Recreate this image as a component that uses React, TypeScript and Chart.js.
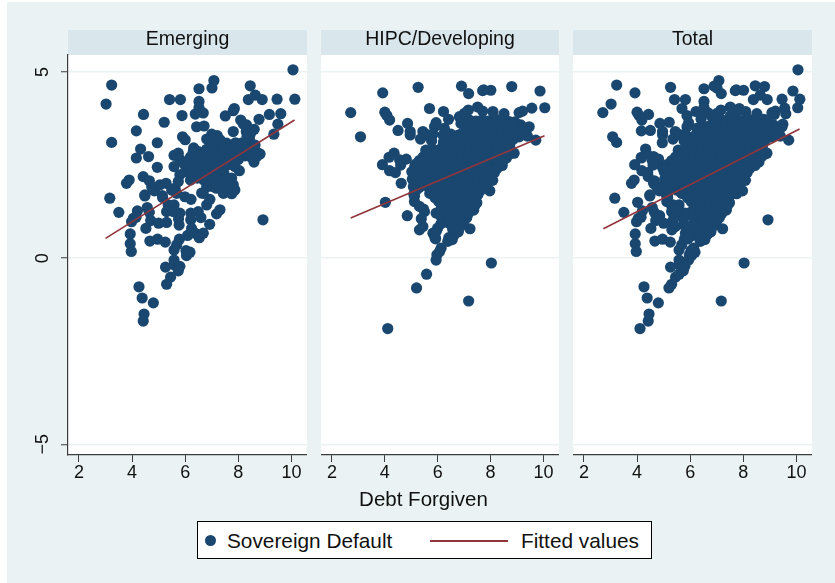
import React, { useEffect, useRef } from "react";
import { Chart, registerables } from "chart.js";

Chart.register(...registerables);

type Pt = [number, number];

const xTicks = [2, 4, 6, 8, 10];
const yTicks = [-5, 0, 5];
const legendLabels = ["Sovereign Default", "Fitted values"];
const xAxisLabel = "Debt Forgiven";
const panelNames = ["Emerging", "HIPC/Developing", "Total"];

const emergingPoints: Pt[] = [
  [10.06,5.06],[3.23,4.65],[3.02,4.14],[7.08,4.77],[7.01,4.57],[6.52,4.55],[8.45,4.63],[8.64,4.38],[8.38,4.26],[8.9,4.26],
  [9.46,4.27],[10.13,4.27],[5.41,4.26],[5.82,4.26],[6.52,4.21],[6.52,4.04],[6.38,3.87],[6.68,3.9],[4.43,3.86],[5.88,3.83],
  [7.51,3.82],[7.85,4.02],[7.81,3.96],[9.17,3.86],[9.6,3.88],[8.78,3.73],[9.49,3.6],[9.34,3.33],[5.21,3.65],[4.16,3.42],
  [8.09,3.71],[8.19,3.6],[8.31,3.58],[8.6,3.46],[7.81,3.4],[6.43,3.53],[6.71,3.55],[8.33,3.27],[8.42,3.2],[3.23,3.11],
  [4.95,3.1],[4.32,2.93],[4.16,2.69],[4.62,2.73],[4.95,2.44],[5.9,3.26],[6.0,3.18],[6.32,2.96],[7.0,3.33],[7.21,3.29],
  [6.81,3.2],[7.06,3.11],[7.31,3.18],[7.56,3.09],[7.81,2.97],[8.06,2.95],[8.38,3.0],[8.63,3.04],[8.69,2.85],[8.82,2.8],
  [8.59,2.58],[8.69,2.73],[5.74,2.82],[5.58,2.76],[5.8,2.66],[5.58,2.46],[6.93,2.86],[6.68,2.77],[6.43,2.69],[6.24,2.55],
  [6.56,2.55],[6.81,2.64],[7.06,2.77],[6.37,2.42],[6.68,2.42],[6.93,2.51],[6.0,2.33],[5.8,2.24],[6.18,2.28],[6.56,2.24],
  [7.44,2.77],[7.69,2.69],[7.94,2.82],[7.62,2.51],[7.87,2.46],[8.04,2.35],[7.46,2.28],[7.18,2.28],[7.75,2.15],[7.81,1.97],
  [7.69,1.83],[7.31,2.06],[7.06,2.06],[7.18,1.88],[6.81,1.92],[6.62,1.75],[7.44,1.79],[3.89,2.1],[3.79,2.01],[4.42,2.19],
  [4.65,2.08],[4.74,1.92],[4.84,1.81],[5.05,1.97],[5.28,2.01],[5.62,1.88],[5.74,2.06],[4.48,1.7],[5.14,1.68],[3.16,1.61],
  [8.93,1.03],[4.48,1.67],[5.15,1.63],[3.5,1.23],[4.2,1.27],[4.05,1.07],[4.15,1.1],[3.98,0.98],[4.57,1.36],[4.65,1.23],
  [4.7,1.01],[5.0,0.94],[5.3,0.96],[4.52,0.8],[3.93,0.65],[3.93,0.39],[3.97,0.18],[4.67,0.46],[4.96,0.51],[5.25,0.43],
  [5.36,1.43],[5.58,1.43],[5.3,1.25],[5.55,1.25],[5.8,1.21],[5.77,0.89],[5.75,1.05],[5.99,1.65],[6.22,1.58],[6.21,1.21],
  [6.21,1.03],[6.49,1.25],[6.81,1.43],[6.93,1.58],[6.68,1.74],[6.59,1.09],[7.18,1.19],[7.31,1.3],[6.92,0.91],[6.24,0.8],
  [6.09,0.61],[6.37,0.67],[6.53,0.55],[6.68,0.67],[5.78,0.51],[5.68,0.36],[5.58,0.22],[6.03,0.2],[6.18,0.16],[6.05,0.07],
  [5.58,-0.05],[5.58,-0.18],[5.26,-0.24],[5.8,-0.22],[5.74,-0.34],[5.45,-0.51],[5.3,-0.7],[4.26,-0.77],[4.38,-1.07],[4.8,-1.2],
  [4.45,-1.5],[4.42,-1.69],[7.44,1.74],[7.75,1.73],[7.87,1.83],[5.68,1.74],[5.49,1.83],
  [6.2,2.72],[6.5,2.86],[6.8,2.92],[6.55,2.4],[6.85,2.35],[7.1,2.45],[6.4,2.3],[6.1,2.45],[7.2,2.62],[7.3,2.9],
  [7.6,2.86],[8.2,2.84],[8.5,2.9],[8.3,3.4],[8.45,3.33],[7.52,2.02],[7.6,1.92],[7.0,1.93],[6.7,2.1],[6.2,2.1],
  [6.3,2.85],[6.65,2.6],[6.35,2.55],[6.9,2.7],[7.05,2.6],[6.75,2.25],[6.2,2.35],[6.45,2.15],[5.95,2.55],[6.1,2.6],
  [7.0,2.2],[7.35,2.5],[7.5,2.55],[7.9,3.1],[8.15,3.1],[8.5,2.7],[7.1,3.0],[7.4,2.95],[8.0,2.65],[8.25,2.75],[6.3,2.2],
];

const hipcOutliers: Pt[] = [
  [2.71,3.91],[3.08,3.26],[3.92,4.44],[5.26,4.59],[6.9,4.62],[7.17,4.42],[7.7,4.5],[7.74,4.52],[8.01,4.51],[8.8,4.61],
  [9.87,4.49],[10.05,4.04],[9.56,4.03],[9.21,3.95],[9.08,3.91],[8.09,3.94],[8.51,3.88],[7.51,4.06],[7.7,3.95],[7.16,3.98],
  [7.01,3.89],[6.82,3.8],[6.88,3.62],[5.69,4.02],[6.22,3.94],[6.41,3.73],[5.94,3.64],[5.88,3.53],[6.25,3.49],[4.0,3.92],
  [4.08,3.83],[4.18,3.71],[4.86,3.62],[4.5,3.43],[4.96,3.4],[4.96,3.31],[5.44,3.4],[5.35,3.2],[5.82,3.33],[5.77,3.15],
  [5.63,3.31],[9.46,3.53],[9.14,3.58],[9.39,3.28],[9.71,3.17],[9.08,3.26],[4.35,2.82],[4.16,2.71],[3.91,2.51],[4.81,2.66],
  [4.6,2.5],[4.56,2.64],[4.18,2.35],[4.4,2.3],[5.59,2.86],[5.85,2.8],[4.62,2.01],[4.02,1.5],[7.97,1.81],[8.89,2.82],
  [4.85,1.14],[5.38,1.06],[5.5,1.25],[5.31,0.76],[5.44,0.85],[7.22,0.79],[8.03,-0.13],[5.58,-0.43],[5.2,-0.8],[7.17,-1.15],
  [4.11,-1.89],[5.94,-0.05],[5.97,0.09],[6.07,0.18],[6.13,0.27],[6.38,0.45],[5.9,0.54],[5.82,0.67],[6.0,0.81],[6.63,0.63],
  [6.76,0.72],[5.12,1.52],[5.31,1.39],[5.12,1.66],[5.94,1.21],[6.13,1.12],
];

const hipcCore: Pt[] = [
  [7.2,3.71],[7.45,3.68],[7.7,3.72],[7.95,3.69],[8.2,3.73],[8.45,3.7],[8.7,3.67],[8.92,3.66],
  [7.2,3.5],[7.48,3.53],[7.72,3.49],[7.98,3.52],[8.24,3.48],[8.5,3.51],[8.76,3.5],[9.0,3.47],[9.28,3.46],
  [6.2,3.3],[6.5,3.33],[6.8,3.31],[7.05,3.34],[7.3,3.3],[7.58,3.32],[7.84,3.29],[8.1,3.33],[8.36,3.31],[8.62,3.3],[8.88,3.28],
  [6.22,3.12],[6.48,3.1],[6.74,3.14],[7.0,3.11],[7.26,3.13],[7.52,3.1],[7.78,3.14],[8.04,3.11],[8.3,3.12],[8.56,3.09],[8.74,3.1],
  [5.55,2.9],[5.8,2.93],[6.06,2.91],[6.32,2.94],[6.58,2.9],[6.84,2.92],[7.1,2.95],[7.36,2.91],[7.62,2.93],[7.88,2.9],[8.14,2.92],[8.4,2.91],[8.66,2.9],
  [5.45,2.72],[5.72,2.7],[5.98,2.74],[6.24,2.71],[6.5,2.73],[6.76,2.7],[7.02,2.72],[7.28,2.75],[7.54,2.71],[7.8,2.73],[8.06,2.7],[8.32,2.72],[8.6,2.69],
  [5.15,2.52],[5.42,2.54],[5.68,2.5],[5.94,2.53],[6.2,2.51],[6.46,2.55],[6.72,2.52],[6.98,2.5],[7.24,2.53],[7.5,2.51],[7.76,2.54],[8.02,2.5],[8.28,2.52],[8.44,2.49],
  [5.02,2.32],[5.28,2.3],[5.54,2.34],[5.8,2.31],[6.06,2.33],[6.32,2.3],[6.58,2.34],[6.84,2.31],[7.1,2.33],[7.36,2.3],[7.62,2.32],[7.88,2.34],[8.14,2.29],
  [5.04,2.12],[5.3,2.1],[5.56,2.14],[5.82,2.11],[6.08,2.13],[6.34,2.15],[6.6,2.1],[6.86,2.12],[7.12,2.14],[7.38,2.11],[7.64,2.13],[7.9,2.1],[8.08,2.09],
  [5.08,1.92],[5.3,1.9],[5.6,1.94],[5.86,1.91],[6.12,1.93],[6.38,1.9],[6.64,1.94],[6.9,1.92],[7.16,1.91],[7.42,1.93],[7.68,1.9],[7.86,1.89],
  [5.1,1.72],[5.7,1.74],[5.96,1.7],[6.22,1.73],[6.48,1.71],[6.74,1.74],[7.0,1.72],[7.26,1.7],[7.52,1.71],
  [6.04,1.52],[6.3,1.5],[6.56,1.54],[6.82,1.51],[7.08,1.53],[7.34,1.5],[7.48,1.49],
  [5.46,1.32],[6.14,1.34],[6.4,1.3],[6.66,1.33],[6.92,1.31],[7.18,1.3],[7.36,1.29],
  [6.34,1.12],[6.6,1.14],[6.86,1.1],[7.1,1.09],
  [6.12,0.92],[6.44,0.94],[6.7,0.9],[6.92,0.89],
  [5.95,0.72],[6.58,0.74],[6.78,0.71],
  [5.92,0.52],[6.42,0.55],[6.55,0.5],
];

const hipcCoreInner: Pt[] = [
  [7.32,3.6],[7.58,3.62],[7.84,3.59],[8.1,3.61],[8.36,3.6],[8.62,3.58],[8.86,3.6],
  [7.0,3.41],[7.3,3.42],[7.6,3.4],[7.9,3.41],[8.15,3.39],[8.42,3.42],[8.68,3.4],[8.94,3.38],[9.18,3.39],
  [6.35,3.22],[6.6,3.23],[6.87,3.21],[7.13,3.24],[7.39,3.22],[7.65,3.2],[7.91,3.23],[8.17,3.21],[8.43,3.22],[8.7,3.2],[8.85,3.19],
  [6.2,3.02],[6.45,3.03],[6.71,3.01],[6.97,3.03],[7.23,3.02],[7.49,3.0],[7.75,3.03],[8.01,3.02],[8.27,3.01],[8.53,3.03],[8.72,3.0],
  [5.62,2.82],[5.88,2.81],[6.14,2.83],[6.4,2.82],[6.66,2.8],[6.92,2.83],[7.18,2.81],[7.44,2.82],[7.7,2.8],[7.96,2.83],[8.22,2.81],[8.48,2.82],[8.7,2.79],
  [5.3,2.62],[5.58,2.63],[5.84,2.61],[6.1,2.62],[6.36,2.64],[6.62,2.61],[6.88,2.63],[7.14,2.62],[7.4,2.6],[7.66,2.63],[7.92,2.61],[8.18,2.62],[8.46,2.6],
  [5.12,2.42],[5.38,2.41],[5.64,2.43],[5.9,2.42],[6.16,2.4],[6.42,2.43],[6.68,2.41],[6.94,2.42],[7.2,2.44],[7.46,2.41],[7.72,2.42],[7.98,2.4],[8.24,2.41],
  [5.15,2.22],[5.42,2.23],[5.68,2.21],[5.94,2.22],[6.2,2.24],[6.46,2.21],[6.72,2.23],[6.98,2.22],[7.24,2.2],[7.5,2.23],[7.76,2.21],[8.02,2.2],
  [5.18,2.02],[5.44,2.03],[5.7,2.01],[5.96,2.02],[6.22,2.04],[6.48,2.01],[6.74,2.03],[7.0,2.02],[7.26,2.0],[7.52,2.03],[7.78,2.01],
  [5.18,1.82],[5.78,1.83],[6.04,1.81],[6.3,1.82],[6.56,1.84],[6.82,1.81],[7.08,1.83],[7.34,1.82],[7.6,1.8],
  [5.9,1.62],[6.16,1.63],[6.42,1.61],[6.68,1.62],[6.94,1.64],[7.2,1.61],[7.44,1.6],
  [6.22,1.42],[6.48,1.43],[6.74,1.41],[7.0,1.42],[7.26,1.4],[7.4,1.41],
  [6.4,1.22],[6.66,1.23],[6.92,1.21],[7.15,1.2],
  [6.5,1.02],[6.76,1.03],[7.0,1.0],
  [6.56,0.82],[6.82,0.83],
];

const hipcPoints: Pt[] = [...hipcOutliers, ...hipcCore, ...hipcCoreInner];
const totalPoints: Pt[] = [...emergingPoints, ...hipcPoints];

const emergingFit: Pt[] = [[3.0,0.53],[10.12,3.71]];
const hipcFit: Pt[] = [[2.71,1.08],[10.04,3.29]];
const totalFit: Pt[] = [[2.73,0.79],[10.12,3.47]];

const BG = "#eaf2f3";
const STRIP = "#d9e6eb";
const NAVY = "#1a476f";
const MAROON = "#90353b";
const AXIS = "#3c3c3c";
const TEXT = "#111111";
const FONT = "'Liberation Sans', Arial, sans-serif";

const panelFill = {
  id: "panelFill",
  beforeDraw(chart: any) {
    const { ctx, chartArea: a } = chart;
    ctx.save();
    ctx.fillStyle = STRIP;
    ctx.fillRect(a.left, 0, a.right - a.left, a.top);
    ctx.fillStyle = "#ffffff";
    ctx.fillRect(a.left, a.top, a.right - a.left, a.bottom - a.top);
    ctx.restore();
  },
};

function Panel({ name, points, fit, left, width, yAxis }: {
  name: string; points: Pt[]; fit: Pt[]; left: number; width: number; yAxis: number;
}) {
  const ref = useRef<HTMLCanvasElement>(null);
  useEffect(() => {
    const chart = new Chart(ref.current!, {
      type: "scatter",
      plugins: [panelFill],
      data: {
        datasets: [
          {
            data: points.map(([x, y]) => ({ x, y })),
            backgroundColor: NAVY,
            borderWidth: 0,
            pointRadius: 5.6,
            pointBorderWidth: 0,
            order: 2,
          },
          {
            data: fit.map(([x, y]) => ({ x, y })),
            showLine: true,
            borderColor: MAROON,
            borderWidth: 1.6,
            pointRadius: 0,
            order: 1,
          },
        ],
      },
      options: {
        animation: false,
        responsive: false,
        devicePixelRatio: 1,
        layout: { padding: 0, autoPadding: false },
        plugins: {
          legend: { display: false },
          tooltip: { enabled: false },
          title: {
            display: true,
            text: name,
            fullSize: false,
            color: TEXT,
            font: { family: FONT, size: 19.5, weight: "normal", lineHeight: 1 },
            padding: { top: 0, bottom: 5.5 },
          },
        },
        scales: {
          x: {
            type: "linear",
            min: 1.586,
            max: 10.588,
            afterBuildTicks: (s: any) => { s.ticks = xTicks.map((value) => ({ value })); },
            afterFit: (s: any) => { s.height = 60; },
            grid: { drawOnChartArea: false, drawTicks: true, tickLength: 7, tickColor: AXIS, tickWidth: 1 },
            border: { display: true, color: AXIS, width: 1.2 },
            ticks: {
              autoSkip: false, maxRotation: 0, padding: 0, color: TEXT,
              font: { family: FONT, size: 18 },
            },
          },
          y: {
            type: "linear",
            min: -5.287,
            max: 5.457,
            afterBuildTicks: (s: any) => { s.ticks = yTicks.map((value) => ({ value })); },
            afterFit: (s: any) => { s.width = yAxis; },
            grid: {
              color: BG,
              lineWidth: 1.5,
              drawTicks: yAxis > 0,
              tickLength: 7,
              tickColor: AXIS,
              tickWidth: 1,
            },
            border: { display: yAxis > 0, color: AXIS, width: 1.2 },
            ticks: {
              display: yAxis > 0,
              minRotation: 90,
              maxRotation: 90,
              crossAlign: "center",
              padding: 8,
              color: TEXT,
              font: { family: FONT, size: 18 },
              callback: (v: any) => String(v).replace("-", "\u2212"),
            },
          },
        },
      },
    } as any);
    return () => chart.destroy();
  }, []);
  return (
    <canvas
      ref={ref}
      width={width}
      height={485}
      style={{ position: "absolute", left, top: 30, width, height: 485 }}
    />
  );
}

const figureText: React.CSSProperties = {
  position: "absolute",
  fontFamily: FONT,
  color: TEXT,
  whiteSpace: "nowrap",
};

const legendText: React.CSSProperties = {
  ...figureText,
  top: 0,
  lineHeight: "38px",
  fontSize: 20.8,
};

export default function App() {
  return (
    <div style={{ position: "absolute", left: 0, top: 0, width: 835, height: 583, overflow: "hidden", background: "#ffffff" }}>
      <div style={{ position: "absolute", left: 7, top: 2, width: 828, height: 581, background: BG }} />
      <Panel name={panelNames[0]} points={emergingPoints} fit={emergingFit} left={8} width={299} yAxis={60} />
      <Panel name={panelNames[1]} points={hipcPoints} fit={hipcFit} left={321} width={238} yAxis={0} />
      <Panel name={panelNames[2]} points={totalPoints} fit={totalFit} left={573} width={239} yAxis={0} />
      <div style={{ ...figureText, left: 323.5, width: 200, textAlign: "center", top: 486, lineHeight: "26px", fontSize: 20.5 }}>{xAxisLabel}</div>
      <div style={{ position: "absolute", left: 197, top: 521, width: 453, height: 36, background: "#fff", border: "1px solid #000" }}>
        <span style={{ position: "absolute", left: 7, top: 13, width: 11, height: 11, borderRadius: "50%", background: NAVY }} />
        <span style={{ ...legendText, left: 29 }}>{legendLabels[0]}</span>
        <span style={{ position: "absolute", left: 232, top: 18, width: 78, height: 2, background: MAROON }} />
        <span style={{ ...legendText, left: 323 }}>{legendLabels[1]}</span>
      </div>
    </div>
  );
}
